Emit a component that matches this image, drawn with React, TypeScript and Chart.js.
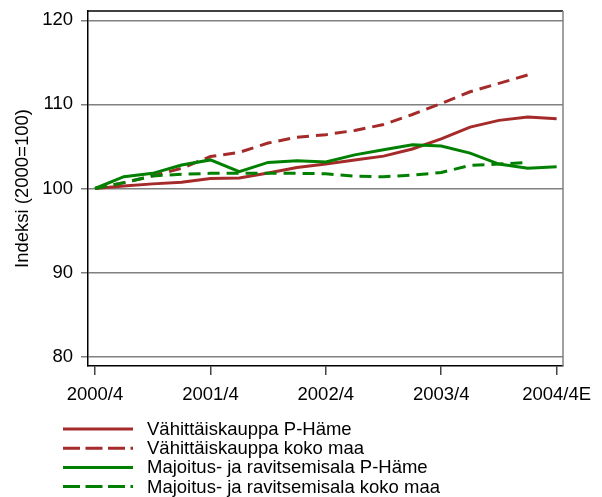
import React, { useEffect, useRef } from "react";
import { Chart, registerables } from "chart.js";

Chart.register(...registerables);

const quarters = [
  "2000/4",
  "2001/1", "2001/2", "2001/3", "2001/4",
  "2002/1", "2002/2", "2002/3", "2002/4",
  "2003/1", "2003/2", "2003/3", "2003/4",
  "2004/1", "2004/2", "2004/3", "2004/4E",
];
const tickQuarters = ["2000/4", "2001/4", "2002/4", "2003/4", "2004/4E"];

const vahittaisPHame = [100, 100.3, 100.55, 100.75, 101.2, 101.25, 101.85, 102.5, 102.9, 103.4, 103.85, 104.7, 105.9, 107.3, 108.1, 108.5, 108.3];
const vahittaisKoko = [100, 100.7, 101.5, 102.4, 103.8, 104.3, 105.4, 106.1, 106.4, 106.9, 107.6, 108.8, 110.1, 111.5, 112.5, 113.5];
const majoitusPHame = [100, 101.4, 101.8, 102.8, 103.4, 102.0, 103.1, 103.3, 103.15, 104.0, 104.6, 105.2, 105.05, 104.2, 102.9, 102.4, 102.6];
const majoitusKoko = [100, 100.7, 101.5, 101.7, 101.8, 101.8, 101.8, 101.8, 101.75, 101.45, 101.4, 101.6, 101.9, 102.75, 102.9, 103.1];

const seriesLabels = [
  "Vähittäiskauppa P-Häme",
  "Vähittäiskauppa koko maa",
  "Majoitus- ja ravitsemisala P-Häme",
  "Majoitus- ja ravitsemisala koko maa",
];

const RED = "#a52a2a";
const GREEN = "#008000";
const FONT = "'Liberation Sans', Arial, Helvetica, sans-serif";
const FONT_SIZE = 18.5;
const DASH = [12, 7];
const LEGEND_DASH = [17, 5.5];

const toPoints = (vals: number[]) => vals.map((v, i) => ({ x: i, y: v }));

const framePlugin = {
  id: "frame",
  afterDraw(chart: any) {
    const { ctx, chartArea } = chart;
    ctx.save();
    ctx.lineWidth = 1.5;
    ctx.strokeStyle = "#000";
    ctx.beginPath();
    ctx.moveTo(chartArea.left, chartArea.top);
    ctx.lineTo(chartArea.right, chartArea.top);
    ctx.stroke();
    ctx.strokeStyle = "#808080";
    ctx.beginPath();
    ctx.moveTo(chartArea.right, chartArea.top);
    ctx.lineTo(chartArea.right, chartArea.bottom);
    ctx.stroke();
    ctx.restore();
  },
};

const legendPlugin = {
  id: "customLegend",
  afterDraw(chart: any) {
    const ctx = chart.ctx;
    ctx.save();
    ctx.font = `${FONT_SIZE}px ${FONT}`;
    ctx.textBaseline = "middle";
    ctx.fillStyle = "#000";
    chart.data.datasets.forEach((ds: any, i: number) => {
      const y = 429 + i * 19.2;
      ctx.strokeStyle = ds.borderColor;
      ctx.lineWidth = 3;
      ctx.setLineDash(ds.borderDash && ds.borderDash.length ? LEGEND_DASH : []);
      ctx.beginPath();
      ctx.moveTo(63, y);
      ctx.lineTo(133, y);
      ctx.stroke();
      ctx.setLineDash([]);
      ctx.fillText(ds.label, 147, y + 1);
    });
    ctx.restore();
  },
};

export default function App() {
  const ref = useRef<HTMLCanvasElement>(null);
  useEffect(() => {
    const makeDs = (label: string, vals: number[], color: string, dashed: boolean, order: number) => ({
      label,
      data: toPoints(vals),
      borderColor: color,
      backgroundColor: color,
      borderWidth: 3,
      borderDash: dashed ? DASH : [],
      pointRadius: 0,
      tension: 0,
      fill: false,
      order,
    });
    const chart = new Chart(ref.current!, {
      type: "line",
      data: {
        datasets: [
          makeDs(seriesLabels[0], vahittaisPHame, RED, false, 3),
          makeDs(seriesLabels[1], vahittaisKoko, RED, true, 2),
          makeDs(seriesLabels[2], majoitusPHame, GREEN, false, 1),
          makeDs(seriesLabels[3], majoitusKoko, GREEN, true, 0),
        ],
      },
      options: {
        responsive: false,
        animation: false,
        layout: { padding: { top: 11, right: 39, left: 0, bottom: 81 } },
        plugins: { legend: { display: false }, tooltip: { enabled: false } },
        scales: {
          x: {
            type: "linear",
            min: -0.243,
            max: 16.22,
            afterBuildTicks: (scale: any) => {
              scale.ticks = tickQuarters.map((q) => ({ value: quarters.indexOf(q) }));
            },
            afterFit: (scale: any) => {
              scale.height = 50;
              scale.paddingLeft = 0;
              scale.paddingRight = 0;
            },
            ticks: {
              autoSkip: false,
              maxRotation: 0,
              color: "#000",
              padding: 9,
              font: { size: FONT_SIZE, family: FONT },
              callback: (v: any) => quarters[v as number],
            },
            grid: { drawOnChartArea: false, drawTicks: true, tickLength: 9, color: "#444", lineWidth: 1.5 },
            border: { color: "#000", width: 1.5 },
          },
          y: {
            min: 78.9,
            max: 121.1,
            afterFit: (scale: any) => {
              scale.width = 88;
              scale.paddingTop = 0;
              scale.paddingBottom = 0;
            },
            ticks: {
              stepSize: 10,
              includeBounds: false,
              color: "#000",
              padding: 8,
              font: { size: FONT_SIZE, family: FONT },
            },
            grid: { color: "#808080", lineWidth: 1.5, tickLength: 7, drawTicks: true },
            border: { color: "#000", width: 1.5 },
            title: {
              display: true,
              text: "Indeksi (2000=100)",
              color: "#000",
              font: { size: FONT_SIZE, family: FONT },
              padding: { top: 12, bottom: 0 },
            },
          },
        },
      },
      plugins: [framePlugin, legendPlugin],
    } as any);
    return () => chart.destroy();
  }, []);
  return (
    <div style={{ position: "fixed", left: 0, top: 0, width: 602, height: 497, background: "#fff" }}>
      <canvas ref={ref} width={602} height={497} style={{ display: "block" }} />
    </div>
  );
}
